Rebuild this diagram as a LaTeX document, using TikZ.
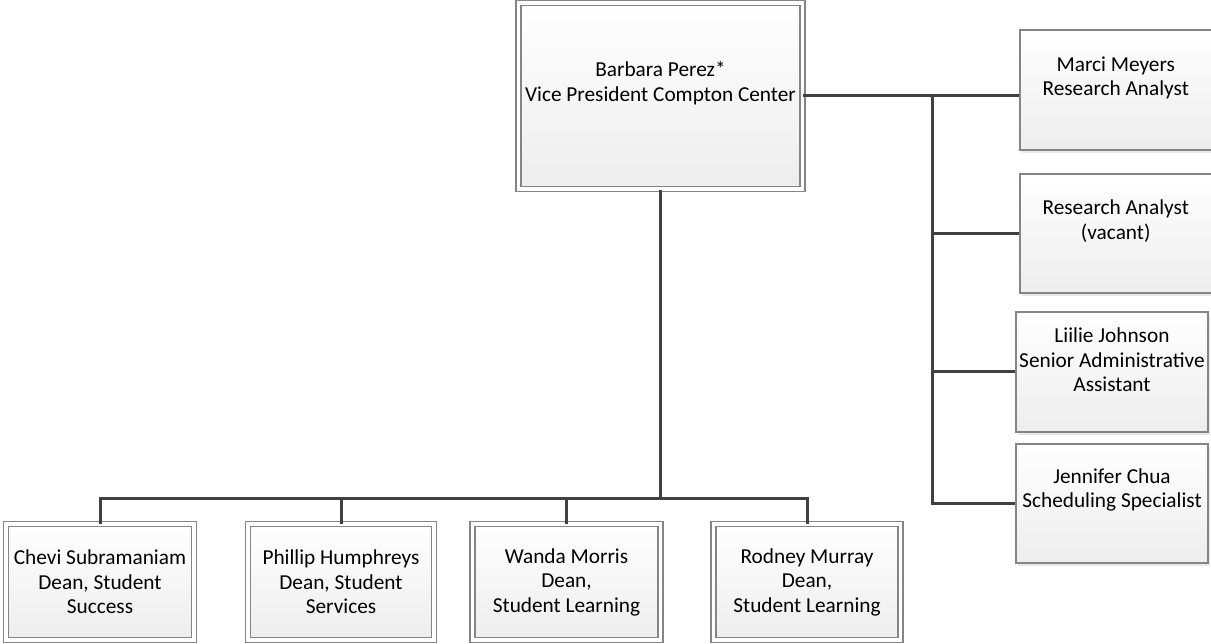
\documentclass[tikz,border=0pt]{standalone}
\usepackage{fontspec}
\setmainfont{Carlito}
\usetikzlibrary{shadows}
\definecolor{wirecol}{HTML}{404040}
\definecolor{framecol}{HTML}{858585}
\tikzstyle{card} = [draw=framecol, line width=1.2pt, top color=white, bottom color=black!7, inner sep=0pt]
\tikzstyle{framed} = [card, double=white, double distance=3.8pt, drop shadow={shadow xshift=1pt, shadow yshift=-3pt, opacity=0.12}]
\tikzstyle{staffbox} = [card, drop shadow={shadow xshift=2pt, shadow yshift=-3pt, opacity=0.18}]
\tikzstyle{lbl} = [align=center, font={\fontsize{21.3}{24.5}\selectfont}, inner sep=0pt]
\tikzstyle{wire} = [draw=wirecol, line width=3pt]

\begin{document}
\begin{tikzpicture}[x=1pt, y=-1pt]
    \useasboundingbox (0,0) rectangle (1211,644);
    % head
    \node[framed, minimum width=284pt, minimum height=186.5pt](vp) at (660.5,96){};
    \node[lbl](vpt) at ([yshift=13pt]vp.center){Barbara Perez*\\Vice President Compton Center};
    % deans
    \node[framed, minimum width=188.5pt, minimum height=115.5pt](d1) at (100,582){};
    \node[framed, minimum width=186.5pt, minimum height=115.5pt](d2) at (341,582){};
    \node[framed, minimum width=188pt, minimum height=115.5pt](d3) at (566.5,582){};
    \node[framed, minimum width=187pt, minimum height=115.5pt](d4) at (807,582){};
    \node[lbl](d1t) at (d1.center){Chevi Subramaniam\\Dean, Student\\Success};
    \node[lbl](d2t) at (d2.center){Phillip Humphreys\\Dean, Student\\Services};
    \node[lbl](d3t) at (d3.center){Wanda Morris\\Dean,\\Student Learning};
    \node[lbl](d4t) at (d4.center){Rodney Murray\\Dean,\\Student Learning};
    % staff
    \node[staffbox, minimum width=191.5pt, minimum height=120pt](s1) at (1115.75,90){};
    \node[staffbox, minimum width=191.5pt, minimum height=119pt](s2) at (1115.75,233.5){};
    \node[staffbox, minimum width=192pt, minimum height=120pt](s3) at (1112,372){};
    \node[staffbox, minimum width=192pt, minimum height=119pt](s4) at (1112,503.5){};
    \node[lbl](s1t) at ([yshift=12pt]s1.center){Marci Meyers\\Research Analyst};
    \node[lbl](s2t) at ([yshift=12.5pt]s2.center){Research Analyst\\(vacant)};
    \node[lbl](s3t) at ([yshift=12pt]s3.center){Liilie Johnson\\Senior Administrative\\Assistant};
    \node[lbl](s4t) at ([yshift=13.5pt]s4.center){Jennifer Chua\\Scheduling Specialist};
    % connectors
    \coordinate(hubB) at (660.5,498);
    \coordinate(hubR) at (932,96);
    \draw[wire](vp.south)--(hubB);
    \foreach \n in {d1,d2,d3,d4}
      \draw[wire](\n.north)|-(hubB);
    \draw[wire](vp.east)--(vp.east -| s1.west);
    \draw[wire](hubR)|-(s4.west);
    \draw[wire](hubR |- s2.west)--(s2.west);
    \draw[wire](hubR |- s3.west)--(s3.west);
  \end{tikzpicture}
\end{document}
